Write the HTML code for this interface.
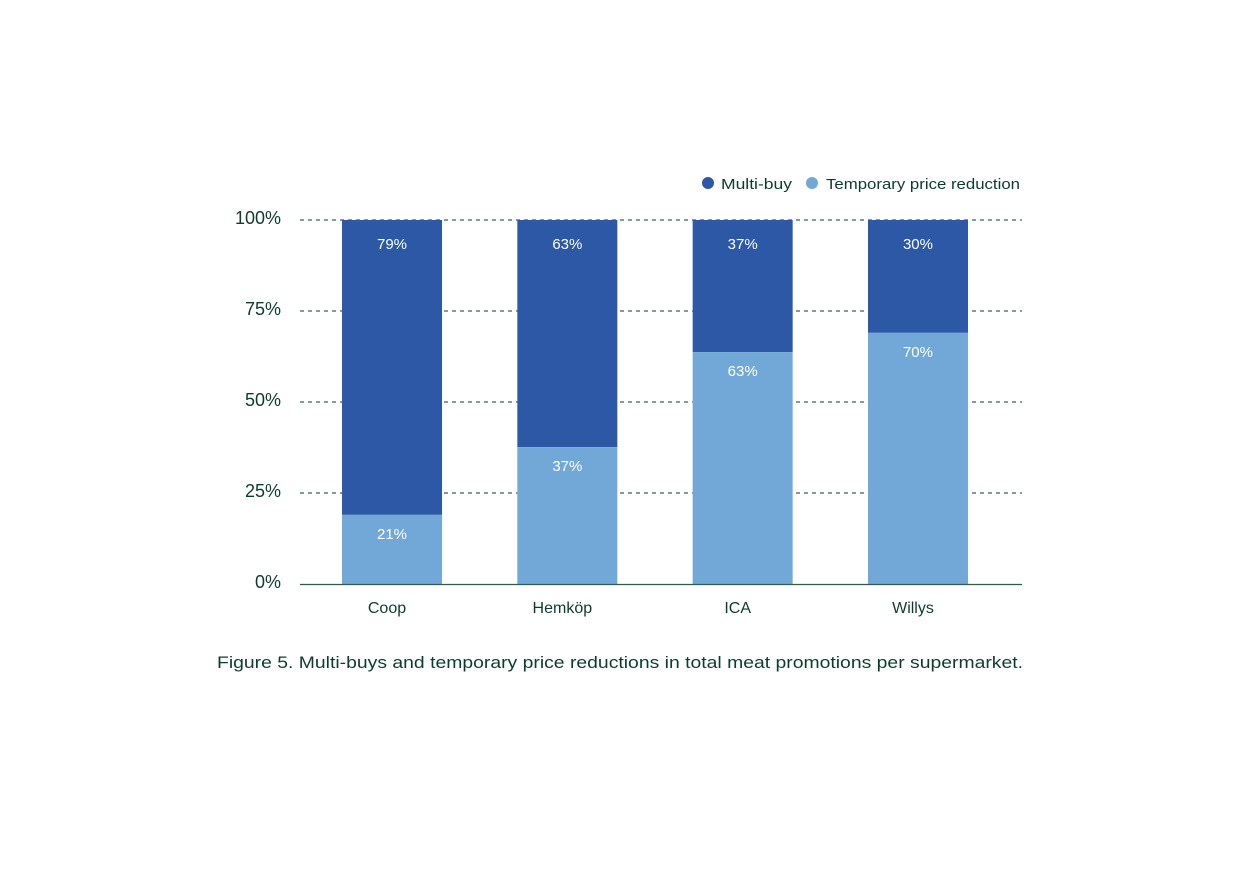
<!DOCTYPE html>
<html><head><meta charset="utf-8"><style>
body{margin:0;background:#fff;}
svg{display:block;font-family:"Liberation Sans",sans-serif;}
</style></head><body>
<svg id="c" width="1240" height="874" viewBox="0 0 1240 874">
<g>
<circle cx="708" cy="183" r="6" fill="#2c58a6"/>
<text x="721" y="189" font-size="15" fill="#0d3b2e" textLength="71" lengthAdjust="spacingAndGlyphs">Multi-buy</text>
<circle cx="812" cy="183" r="6" fill="#72a8d8"/>
<text x="826" y="189" font-size="15" fill="#0d3b2e" textLength="194" lengthAdjust="spacingAndGlyphs">Temporary price reduction</text>
</g>
<text x="217" y="668" font-size="17" fill="#0d3b2e" textLength="806" lengthAdjust="spacingAndGlyphs">Figure 5. Multi-buys and temporary price reductions in total meat promotions per supermarket.</text>
</svg>
<script>
const categories=["Coop","Hemköp","ICA","Willys"];
const light=[19,37.6,63.7,69];
const lightLbl=["21%","37%","63%","70%"];
const darkLbl=["79%","63%","37%","30%"];
const ticks=[0,25,50,75,100];
const tickLbl=["0%","25%","50%","75%","100%"];
const svg=document.getElementById('c');const NS="http://www.w3.org/2000/svg";
const y=v=>584-v*3.64;
const x=i=>392+i*175.33;
function mk(t,a,p){const e=document.createElementNS(NS,t);for(const k in a)e.setAttribute(k,a[k]);(p||svg).appendChild(e);return e;}
ticks.forEach((t,i)=>{
 if(t>0){const l=mk('line',{x1:300,x2:1022,y1:y(t),y2:y(t),stroke:'#0d3b2e','stroke-dasharray':'4,4','stroke-width':1});
 
 }
 const tx=mk('text',{x:281,y:y(t)+4,'font-size':18,fill:'#0d3b2e','text-anchor':'end'});tx.textContent=tickLbl[i];
 
 
});
categories.forEach((c,i)=>{
 const cx=x(i);
 const d=mk('rect',{x:cx-50,y:y(100),width:100,height:y(light[i])-y(100),fill:'#2c58a6'});
 
 
 const b=mk('rect',{x:cx-50,y:y(light[i]),width:100,height:y(0)-y(light[i]),fill:'#72a8d8'});
 
 
 const t1=mk('text',{x:cx,y:y(100)+29,'font-size':15,fill:'#fff','text-anchor':'middle'});t1.textContent=darkLbl[i];
 
 
 const t2=mk('text',{x:cx,y:y(light[i])+24,'font-size':15,fill:'#fff','text-anchor':'middle'});t2.textContent=lightLbl[i];
 
 
 const xl=mk('text',{x:cx-5,y:613,'font-size':16,fill:'#0d3b2e','text-anchor':'middle'});xl.textContent=c;
 
 
});
const ax=mk('line',{x1:300,x2:1022,y1:584.5,y2:584.5,stroke:'#2d5a4a','stroke-width':1.2});


</script>
</body></html>
